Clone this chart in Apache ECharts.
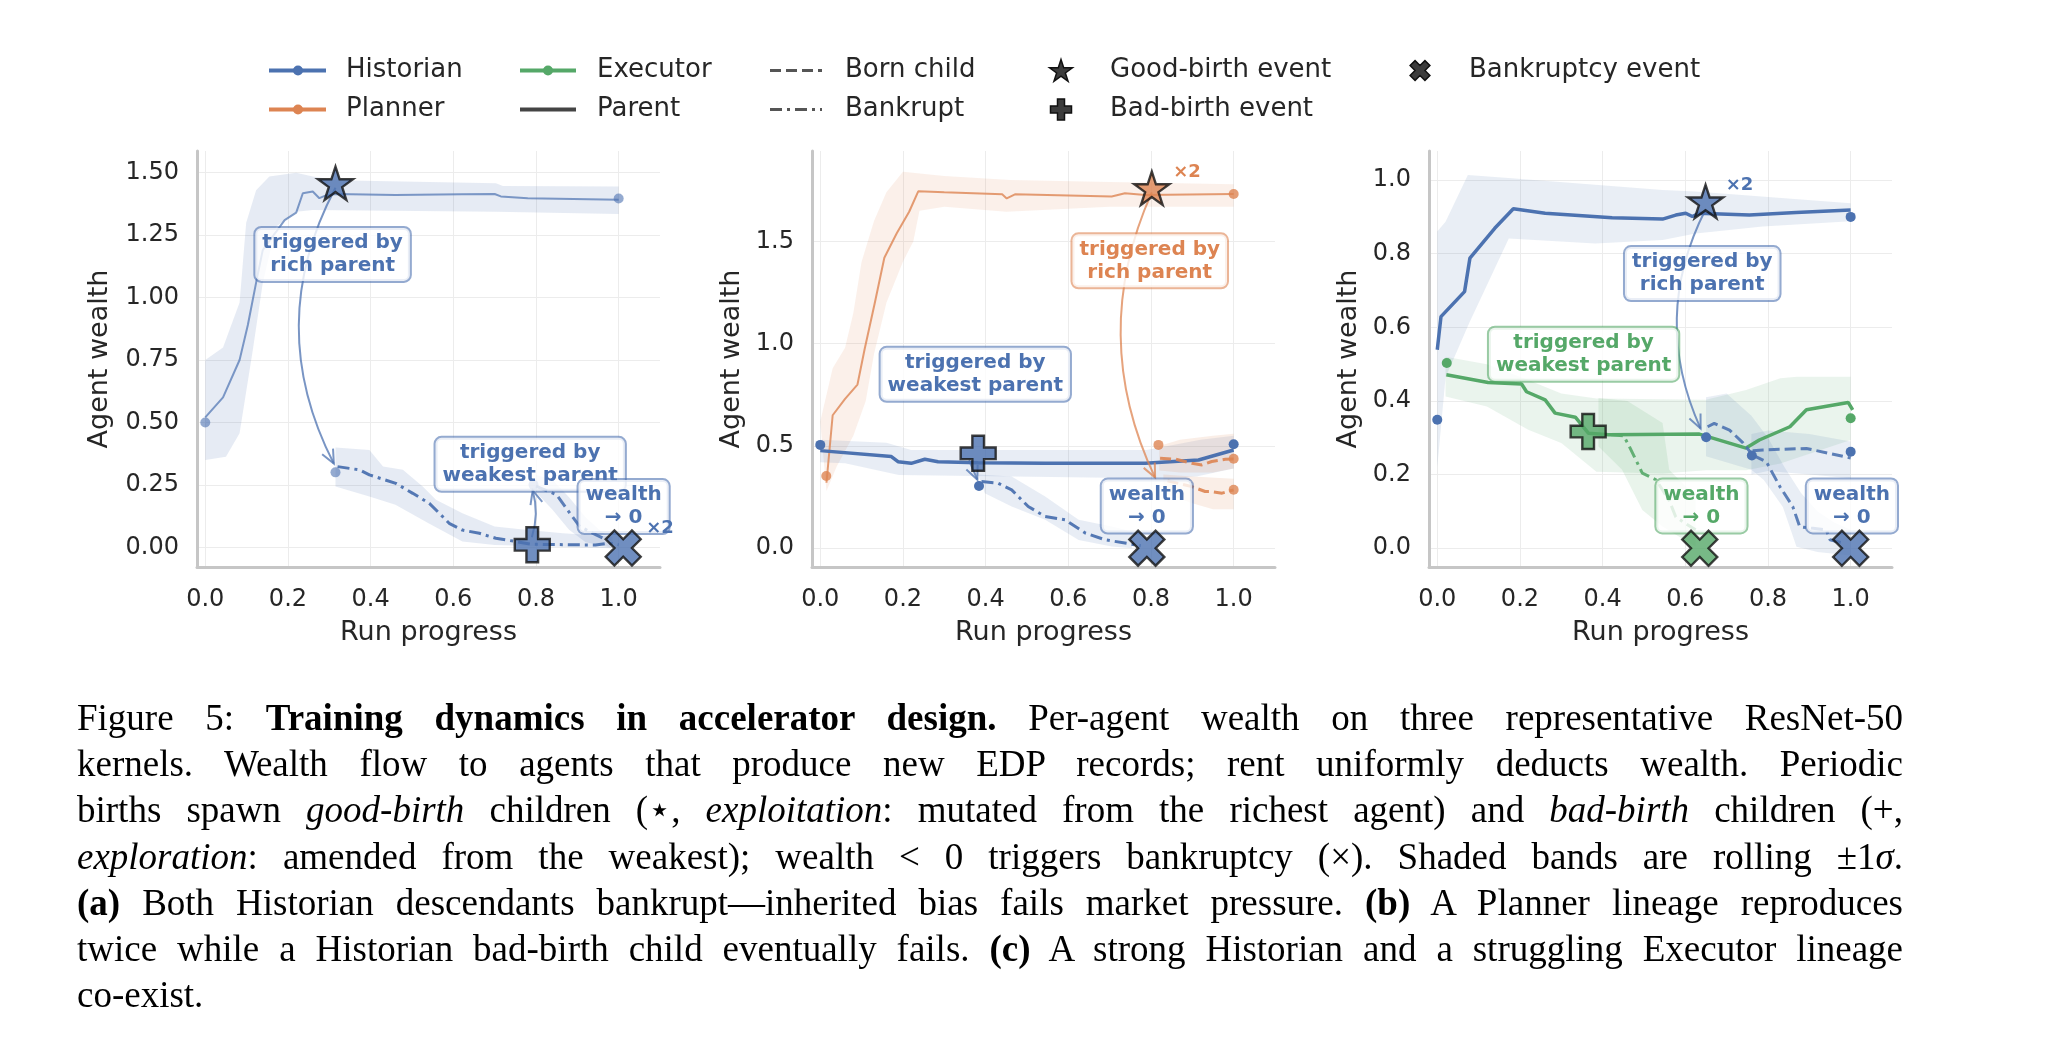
<!DOCTYPE html>
<html lang="en">
<head>
<meta charset="UTF-8">
<title>Figure 5</title>
<script src="https://cdn.jsdelivr.net/npm/echarts@6/dist/echarts.min.js"></script>
<style>
    * { margin: 0; padding: 0; }
    body { background: #fff; width: 2047px; height: 1043px; overflow: hidden; position: relative; }
    #chart { position: absolute; left: 0; top: 0; width: 2047px; height: 1043px; }
    #caption {
        position: absolute; left: 77px; top: 695px; width: 1826px;
        font-family: "Liberation Serif", "Times New Roman", serif;
        font-size: 37px; line-height: 46.2px; color: #000;
    }
    #caption div { text-align: justify; text-align-last: justify; white-space: nowrap; word-spacing: -2px; }
    #caption div.last { text-align-last: left; }
</style>
</head>
<body>
<div id="chart"></div>
<div id="caption">
    <div>Figure 5: <b>Training dynamics in accelerator design.</b> Per-agent wealth on three representative ResNet-50</div>
    <div>kernels. Wealth flow to agents that produce new EDP records; rent uniformly deducts wealth. Periodic</div>
    <div>births spawn <i>good-birth</i> children (&#8902;, <i>exploitation</i>: mutated from the richest agent) and <i>bad-birth</i> children (+,</div>
    <div><i>exploration</i>: amended from the weakest); wealth &lt; 0 triggers bankruptcy (&times;). Shaded bands are rolling &plusmn;1<i>&sigma;</i>.</div>
    <div><b>(a)</b> Both Historian descendants bankrupt&mdash;inherited bias fails market pressure. <b>(b)</b> A Planner lineage reproduces</div>
    <div>twice while a Historian bad-birth child eventually fails. <b>(c)</b> A strong Historian and a struggling Executor lineage</div>
    <div class="last">co-exist.</div>
</div>

<script type="text/javascript">
var C_HIST = '#4c72b0', C_PLAN = '#dd8452', C_EXEC = '#55a868';

// shared ticks
var xTicks = [0, 0.2, 0.4, 0.6, 0.8, 1.0];
var aTicksY = [0, 0.25, 0.5, 0.75, 1.0, 1.25, 1.5];
var bTicksY = [0, 0.5, 1.0, 1.5];
var cTicksY = [0, 0.2, 0.4, 0.6, 0.8, 1.0];

// ---- panel (a): Historian lineage ----
var aHistLine = [[0,0.52],[0.043,0.60],[0.083,0.75],[0.103,0.89],[0.123,1.06],[0.139,1.19],[0.192,1.31],[0.22,1.34],[0.236,1.418],[0.26,1.425],[0.276,1.398],[0.292,1.409],[0.316,1.415],[0.46,1.411],[0.62,1.414],[0.70,1.415],[0.715,1.405],[0.78,1.398],[1.0,1.392]];
var aHistHi = [[0,0.75],[0.043,0.80],[0.083,0.98],[0.099,1.30],[0.123,1.43],[0.155,1.485],[0.22,1.50],[0.26,1.485],[0.316,1.47],[0.703,1.458],[0.72,1.447],[1.0,1.445]];
var aHistLo = [[0,0.35],[0.05,0.363],[0.083,0.457],[0.115,0.79],[0.139,1.057],[0.171,1.284],[0.22,1.344],[0.26,1.351],[0.703,1.344],[1.0,1.335]];
var aChild1Line = [[0.32,0.323],[0.373,0.31],[0.397,0.29],[0.461,0.256],[0.502,0.216],[0.542,0.176],[0.574,0.123],[0.59,0.096],[0.622,0.069],[0.663,0.056],[0.703,0.036],[0.751,0.023],[0.79,0.012],[0.944,0.009],[0.977,0.016],[1.0,0.01]];
var aChild1Hi = [[0.315,0.40],[0.397,0.39],[0.43,0.323],[0.478,0.31],[0.526,0.243],[0.558,0.19],[0.59,0.163],[0.622,0.136],[0.70,0.083],[0.78,0.069],[0.865,0.056],[0.985,0.043]];
var aChild1Lo = [[0.315,0.243],[0.397,0.203],[0.46,0.17],[0.54,0.096],[0.622,0.023],[0.70,0.009],[0.985,-0.004]];
var aChild2Line = [[0.80,0.245],[0.85,0.21],[0.882,0.136],[0.906,0.083],[0.938,0.056],[0.97,0.03]];
var aChild2Hi = [[0.80,0.29],[0.84,0.27],[0.88,0.20],[0.92,0.12],[0.96,0.06],[0.98,0.04]];
var aChild2Lo = [[0.80,0.22],[0.84,0.15],[0.88,0.07],[0.92,0.02],[0.98,0.0]];
var aDots = [[0,0.50],[1.0,1.397],[0.315,0.30],[0.794,0.25]];
var aGood = [[0.315,1.458]];
var aBad = [[0.791,0.01]];
var aBankrupt = [[1.011,-0.003]];
var aBoxPos = [[0.308,1.173],[0.786,0.332],[1.012,0.163]];
var aBoxText = ['triggered by\nrich parent', 'triggered by\nweakest parent', 'wealth\n\u2192 0'];
var aCount = [[1.10,0.076]];
var aArrows = [[0.315,1.44,0.311,0.335,-0.26],[0.79,0.04,0.792,0.228,-0.15]];

// ---- panel (b): Planner reproduces, Historian child fails ----
var bPlanLine = [[0.015,0.32],[0.03,0.65],[0.06,0.73],[0.09,0.80],[0.107,0.97],[0.132,1.20],[0.155,1.42],[0.185,1.54],[0.215,1.645],[0.237,1.745],[0.30,1.74],[0.44,1.73],[0.451,1.71],[0.471,1.73],[0.705,1.72],[0.737,1.735],[0.786,1.727],[1.0,1.732]];
var bPlanHi = [[0,0.62],[0.03,0.88],[0.06,0.98],[0.08,1.15],[0.10,1.40],[0.13,1.60],[0.16,1.74],[0.20,1.84],[0.30,1.82],[0.46,1.80],[0.70,1.79],[1.0,1.78]];
var bPlanLo = [[0.015,0.28],[0.04,0.40],[0.08,0.55],[0.11,0.72],[0.13,0.95],[0.16,1.20],[0.20,1.40],[0.225,1.50],[0.24,1.65],[0.30,1.67],[0.45,1.645],[0.70,1.67],[1.0,1.67]];
var bHistLine = [[0,0.477],[0.172,0.448],[0.188,0.423],[0.22,0.415],[0.253,0.435],[0.285,0.423],[0.382,0.418],[0.544,0.415],[0.786,0.415],[0.915,0.431],[1.0,0.48]];
var bHistHi = [[0,0.53],[0.16,0.515],[0.22,0.48],[0.79,0.48],[0.92,0.53],[1.0,0.55]];
var bHistLo = [[0,0.42],[0.06,0.415],[0.19,0.358],[0.79,0.342],[0.91,0.35],[1.0,0.39]];
var bChildLine = [[0.39,0.326],[0.43,0.318],[0.463,0.285],[0.503,0.204],[0.544,0.155],[0.592,0.139],[0.641,0.074],[0.689,0.041],[0.737,0.025],[0.775,0.012]];
var bChildHi = [[0.382,0.36],[0.463,0.35],[0.544,0.253],[0.625,0.139],[0.705,0.106],[0.754,0.082]];
var bChildLo = [[0.398,0.269],[0.463,0.204],[0.544,0.139],[0.625,0.04],[0.705,0.008],[0.754,0.0]];
var bPlanKidA = [[0.822,0.44],[0.86,0.435],[0.899,0.415],[0.923,0.407],[0.947,0.424],[0.98,0.435],[1.0,0.436]];
var bPlanKidB = [[0.84,0.33],[0.87,0.315],[0.899,0.301],[0.931,0.277],[0.943,0.277],[0.972,0.269],[1.0,0.285]];
var bKidAHi = [[0.82,0.50],[0.87,0.53],[0.95,0.55],[1.0,0.56]];
var bKidALo = [[0.82,0.38],[0.87,0.37],[0.95,0.37],[1.0,0.39]];
var bKidBHi = [[0.83,0.36],[0.90,0.35],[1.0,0.34]];
var bKidBLo = [[0.83,0.27],[0.90,0.22],[0.95,0.19],[1.0,0.19]];
var bHistDots = [[0,0.505],[1.0,0.508],[0.384,0.304]];
var bPlanDots = [[0.0145,0.353],[1.0,1.732],[0.818,0.505],[1.0,0.437],[1.0,0.286]];
var bGood = [[0.802,1.76]];
var bBad = [[0.382,0.464]];
var bBankrupt = [[0.79,0.0]];
var bBoxPlanPos = [[0.797,1.405]];
var bBoxPlanText = ['triggered by\nrich parent'];
var bBoxHistPos = [[0.375,0.85],[0.79,0.206]];
var bBoxHistText = ['triggered by\nweakest parent', 'wealth\n\u2192 0'];
var bCount = [[0.887,1.84]];
var bArrowsPlan = [[0.802,1.74,0.81,0.345,-0.23]];
var bArrowsHist = [[0.36,0.43,0.38,0.335,0]];

// ---- panel (c): strong Historian, struggling Executor ----
var cHistLine = [[0,0.539],[0.009,0.629],[0.066,0.697],[0.079,0.788],[0.139,0.869],[0.184,0.922],[0.261,0.91],[0.423,0.898],[0.545,0.894],[0.577,0.905],[0.601,0.91],[0.617,0.901],[0.633,0.91],[0.755,0.905],[0.868,0.912],[1.0,0.919]];
var cHistHi = [[0,0.86],[0.02,0.887],[0.074,1.014],[0.18,1.005],[0.545,0.973],[0.625,0.969],[1.0,0.937]];
var cHistLo = [[0,0.22],[0.02,0.464],[0.077,0.611],[0.173,0.841],[0.382,0.828],[0.545,0.837],[0.625,0.855],[0.787,0.874],[1.0,0.888]];
var cExecLine = [[0.022,0.471],[0.123,0.45],[0.204,0.446],[0.216,0.425],[0.261,0.403],[0.285,0.367],[0.334,0.356],[0.366,0.312],[0.415,0.308],[0.634,0.31],[0.747,0.272],[0.779,0.294],[0.853,0.33],[0.893,0.376],[0.994,0.396],[1.005,0.376]];
var cExecHi = [[0.02,0.52],[0.12,0.50],[0.22,0.457],[0.30,0.42],[0.385,0.407],[0.65,0.403],[0.747,0.43],[0.83,0.462],[0.87,0.466],[1.0,0.466]];
var cExecLo = [[0.02,0.412],[0.12,0.385],[0.22,0.322],[0.30,0.286],[0.385,0.208],[0.545,0.203],[0.65,0.212],[0.747,0.212],[0.83,0.23],[1.0,0.294]];
var cExecKid = [[0.42,0.308],[0.451,0.305],[0.463,0.28],[0.496,0.204],[0.529,0.186],[0.561,0.13],[0.577,0.085],[0.601,0.067],[0.625,0.05]];
var cExecKidHi = [[0.39,0.408],[0.46,0.40],[0.545,0.34],[0.561,0.213],[0.593,0.177],[0.625,0.14]];
var cExecKidLo = [[0.39,0.276],[0.447,0.213],[0.496,0.104],[0.545,0.059],[0.61,0.014],[0.625,0.005]];
var cHistKidA = [[0.654,0.33],[0.67,0.339],[0.707,0.321],[0.739,0.287],[0.763,0.253]];
var cHistKidAFail = [[0.763,0.253],[0.796,0.235],[0.829,0.167],[0.86,0.113],[0.877,0.058],[0.909,0.054],[0.941,0.05],[0.95,0.023],[0.982,0.014]];
var cHistKidB = [[0.763,0.265],[0.788,0.267],[0.893,0.271],[1.0,0.245]];
var cKidAHi = [[0.65,0.41],[0.70,0.42],[0.76,0.36],[0.80,0.30],[0.84,0.22],[0.88,0.15],[0.92,0.10],[0.96,0.07],[1.0,0.05]];
var cKidALo = [[0.65,0.25],[0.76,0.213],[0.79,0.185],[0.836,0.112],[0.869,0.004],[0.92,-0.01],[1.0,-0.02]];
var cKidBHi = [[0.76,0.31],[0.80,0.32],[0.90,0.31],[1.0,0.29]];
var cKidBLo = [[0.76,0.20],[0.80,0.21],[0.90,0.20],[1.0,0.19]];
var cHistDots = [[0,0.349],[1.0,0.90],[0.6505,0.3015],[0.761,0.252],[1.0,0.262]];
var cExecDots = [[0.023,0.503],[1.0,0.353]];
var cGood = [[0.649,0.942]];
var cBad = [[0.365,0.317]];
var cBankruptExec = [[0.635,0.0]];
var cBankruptHist = [[1.0,0.0]];
var cBoxHistPos = [[0.641,0.746],[1.003,0.115]];
var cBoxHistText = ['triggered by\nrich parent', 'wealth\n\u2192 0'];
var cBoxExecPos = [[0.354,0.527],[0.639,0.115]];
var cBoxExecText = ['triggered by\nweakest parent', 'wealth\n\u2192 0'];
var cCount = [[0.731,0.987]];
var cArrowsHist = [[0.649,0.92,0.637,0.325,-0.24]];

// ---- marker shapes ----
function starPts(cx, cy, R) {
    var pts = [];
    for (var k = 0; k < 10; k++) {
        var r = (k % 2) ? R * 0.382 : R;
        var a = -Math.PI / 2 + k * Math.PI / 5;
        pts.push([cx + r * Math.cos(a), cy + r * Math.sin(a)]);
    }
    return pts;
}
var PLUS_BASE = [[0.5,1.5],[0.5,0.5],[1.5,0.5],[1.5,-0.5],[0.5,-0.5],[0.5,-1.5],[-0.5,-1.5],[-0.5,-0.5],[-1.5,-0.5],[-1.5,0.5],[-0.5,0.5],[-0.5,1.5]];
function plusPts(cx, cy, s) {
    var u = s / 3;
    return PLUS_BASE.map(function (p) { return [cx + p[0] * u, cy + p[1] * u]; });
}
function crossPts(cx, cy, s) {
    var u = s / (3 * Math.SQRT2);
    return PLUS_BASE.map(function (p) { return [cx + (p[0] - p[1]) * u, cy + (p[0] + p[1]) * u]; });
}
function toPath(pts) {
    return 'path://M' + pts.map(function (p) { return p[0].toFixed(3) + ',' + p[1].toFixed(3); }).join(' L') + ' Z';
}
var STAR = toPath(starPts(50, 50, 50));
var PLUS = toPath(plusPts(50, 50, 100));
var CROSS = toPath(crossPts(50, 50, 100));

// ---- series builders ----
function lineS(g, data, color, width, type, opacity) {
    return {
        type: 'line', xAxisIndex: g, yAxisIndex: g, data: data, symbol: 'none', silent: true, z: 3,
        lineStyle: { color: color, width: width, type: type || 'solid', opacity: opacity == null ? 1 : opacity, cap: 'butt' }
    };
}
function dotS(g, data, color, opacity) {
    return {
        type: 'scatter', xAxisIndex: g, yAxisIndex: g, data: data, symbol: 'circle', symbolSize: 10, silent: true, z: 4,
        itemStyle: { color: color, opacity: opacity == null ? 1 : opacity }
    };
}
function markS(g, data, shape, color, size) {
    return {
        type: 'scatter', xAxisIndex: g, yAxisIndex: g, data: data, symbol: shape, symbolSize: size, symbolKeepAspect: true,
        silent: true, z: 10, itemStyle: { color: color, borderColor: '#111', borderWidth: 2.4 }
    };
}
function bandS(g, hi, lo, color, opacity) {
    return {
        type: 'custom', xAxisIndex: g, yAxisIndex: g, data: [[hi[0][0], hi[0][1]]], silent: true, z: 1,
        renderItem: function (params, api) {
            var pts = hi.map(function (p) { return api.coord(p); });
            lo.slice().reverse().forEach(function (p) { pts.push(api.coord(p)); });
            return { type: 'polygon', shape: { points: pts }, style: { fill: color, opacity: opacity } };
        }
    };
}
function arrowS(g, list, color) {
    return {
        type: 'custom', xAxisIndex: g, yAxisIndex: g, data: list, silent: true, z: 5,
        renderItem: function (params, api) {
            var p1 = api.coord([api.value(0), api.value(1)]);
            var p2 = api.coord([api.value(2), api.value(3)]);
            var rad = api.value(4);
            var dx = p2[0] - p1[0], dy = p2[1] - p1[1];
            var cx = (p1[0] + p2[0]) / 2 + rad * dy, cy = (p1[1] + p2[1]) / 2 - rad * dx;
            var tx = p2[0] - cx, ty = p2[1] - cy, tl = Math.sqrt(tx * tx + ty * ty);
            tx /= tl; ty /= tl;
            var L = 15, a = 0.42, ca = Math.cos(a), sa = Math.sin(a);
            var h1 = [p2[0] - L * (tx * ca - ty * sa), p2[1] - L * (ty * ca + tx * sa)];
            var h2 = [p2[0] - L * (tx * ca + ty * sa), p2[1] - L * (ty * ca - tx * sa)];
            var st = { stroke: color, lineWidth: 2, fill: null, opacity: 0.75 };
            return {
                type: 'group', children: [
                    { type: 'bezierCurve', shape: { x1: p1[0], y1: p1[1], x2: p2[0], y2: p2[1], cpx1: cx, cpy1: cy }, style: st },
                    { type: 'polyline', shape: { points: [h1, p2, h2] }, style: st }
                ]
            };
        }
    };
}
function boxS(g, pos, texts, color, border) {
    return {
        type: 'custom', xAxisIndex: g, yAxisIndex: g, data: pos, silent: true, z: 6,
        renderItem: function (params, api) {
            var p = api.coord([api.value(0), api.value(1)]);
            return {
                type: 'text', x: p[0], y: p[1],
                style: {
                    text: texts[params.dataIndex], fill: color, align: 'center', verticalAlign: 'middle',
                    font: 'bold 20px "DejaVu Sans"', lineHeight: 23,
                    backgroundColor: 'rgba(255,255,255,0.8)', borderColor: border, borderWidth: 2,
                    borderRadius: 6, padding: [4, 7, 3, 7]
                }
            };
        }
    };
}
function countS(g, pos, color) {
    return {
        type: 'custom', xAxisIndex: g, yAxisIndex: g, data: pos, silent: true, z: 7,
        renderItem: function (params, api) {
            var p = api.coord([api.value(0), api.value(1)]);
            return { type: 'text', x: p[0], y: p[1], style: { text: '\u00d72', fill: color, align: 'center', verticalAlign: 'middle', font: 'bold 18px "DejaVu Sans"' } };
        }
    };
}

var DASH = [11, 5], DASHDOT = [12, 5, 3, 5];
var B_HIST = 'rgba(76,114,176,0.6)', B_PLAN = 'rgba(221,132,82,0.6)', B_EXEC = 'rgba(85,168,104,0.6)';

// ---- axes ----
var GRID_LEFT = [197, 812, 1429];
var grids = GRID_LEFT.map(function (l) { return { left: l, top: 151, width: 463, height: 416 }; });

function xAx(g) {
    return {
        type: 'value', gridIndex: g, min: -0.02, max: 1.1,
        name: 'Run progress', nameLocation: 'middle', nameGap: 52,
        nameTextStyle: { fontSize: 27, color: '#262626', fontFamily: 'DejaVu Sans' },
        axisLine: { onZero: false, lineStyle: { color: '#c6c6c6', width: 3 } },
        axisTick: { show: false, customValues: xTicks },
        axisLabel: { customValues: xTicks, margin: 21, fontSize: 24, color: '#262626', fontFamily: 'DejaVu Sans',
            formatter: function (v) { return v.toFixed(1); } },
        splitLine: { show: true, lineStyle: { color: '#ececec', width: 1 } }
    };
}
function yAx(g, min, max, ticks, dec, gap) {
    return {
        type: 'value', gridIndex: g, min: min, max: max,
        name: 'Agent wealth', nameLocation: 'middle', nameGap: gap, nameRotate: 90,
        nameTextStyle: { fontSize: 27, color: '#262626', fontFamily: 'DejaVu Sans' },
        axisLine: { show: true, onZero: false, lineStyle: { color: '#c6c6c6', width: 3 } },
        axisTick: { show: false, customValues: ticks },
        axisLabel: { customValues: ticks, margin: 18, fontSize: 24, color: '#262626', fontFamily: 'DejaVu Sans',
            formatter: function (v) { return v.toFixed(dec); } },
        splitLine: { show: true, lineStyle: { color: '#ececec', width: 1 } }
    };
}

// ---- legend (drawn as graphic) ----
var legendRows = [70.5, 109.5];
var legTextStyle = { fill: '#262626', font: '26px "DejaVu Sans"', verticalAlign: 'middle', align: 'left' };
function legText(x, y, t) { return { type: 'text', x: x, y: y, style: Object.assign({ text: t }, legTextStyle) }; }
function legLine(x1, x2, y, color, dash, w) {
    return { type: 'line', shape: { x1: x1, y1: y, x2: x2, y2: y }, style: { stroke: color, lineWidth: w || 4, lineDash: dash || null } };
}
function legDot(x, y, color) { return { type: 'circle', shape: { cx: x, cy: y, r: 5 }, style: { fill: color } }; }
function legPoly(pts) { return { type: 'polygon', shape: { points: pts }, style: { fill: '#3c3c3c', stroke: '#111', lineWidth: 1.5 } }; }
var legend = [
    legLine(269, 326, legendRows[0], C_HIST), legDot(298, legendRows[0], C_HIST), legText(346, legendRows[0], 'Historian'),
    legLine(269, 326, legendRows[1], C_PLAN), legDot(298, legendRows[1], C_PLAN), legText(346, legendRows[1], 'Planner'),
    legLine(520, 576, legendRows[0], C_EXEC), legDot(548, legendRows[0], C_EXEC), legText(597, legendRows[0], 'Executor'),
    legLine(520, 576, legendRows[1], '#444'), legText(597, legendRows[1], 'Parent'),
    legLine(770, 822, legendRows[0], '#555', DASH, 3), legText(845, legendRows[0], 'Born child'),
    legLine(770, 822, legendRows[1], '#555', DASHDOT, 3), legText(845, legendRows[1], 'Bankrupt'),
    legPoly(starPts(1061, legendRows[0] + 1, 12)), legText(1110, legendRows[0], 'Good-birth event'),
    legPoly(plusPts(1061, legendRows[1], 21)), legText(1110, legendRows[1], 'Bad-birth event'),
    legPoly(crossPts(1420, legendRows[0], 21)), legText(1469, legendRows[0], 'Bankruptcy event')
];

var series = [
    // (a)
    bandS(0, aHistHi, aHistLo, C_HIST, 0.14),
    bandS(0, aChild1Hi, aChild1Lo, C_HIST, 0.14),
    bandS(0, aChild2Hi, aChild2Lo, C_HIST, 0.14),
    lineS(0, aHistLine, C_HIST, 2, 'solid', 0.7),
    lineS(0, aChild1Line, C_HIST, 3, DASHDOT, 0.95),
    lineS(0, aChild2Line, C_HIST, 3, DASHDOT, 0.9),
    dotS(0, aDots, C_HIST, 0.6),
    arrowS(0, aArrows, C_HIST),
    boxS(0, aBoxPos, aBoxText, C_HIST, B_HIST),
    countS(0, aCount, C_HIST),
    markS(0, aGood, STAR, C_HIST, 35),
    markS(0, aBad, PLUS, C_HIST, 35),
    markS(0, aBankrupt, CROSS, C_HIST, 35),
    // (b)
    bandS(1, bPlanHi, bPlanLo, C_PLAN, 0.12),
    bandS(1, bHistHi, bHistLo, C_HIST, 0.13),
    bandS(1, bChildHi, bChildLo, C_HIST, 0.13),
    bandS(1, bKidAHi, bKidALo, C_PLAN, 0.14),
    bandS(1, bKidBHi, bKidBLo, C_PLAN, 0.14),
    lineS(1, bPlanLine, C_PLAN, 2, 'solid', 0.8),
    lineS(1, bHistLine, C_HIST, 3.5, 'solid', 1),
    lineS(1, bChildLine, C_HIST, 3, DASHDOT, 0.95),
    lineS(1, bPlanKidA, C_PLAN, 3, DASH, 0.9),
    lineS(1, bPlanKidB, C_PLAN, 3, DASH, 0.9),
    dotS(1, bHistDots, C_HIST, 1),
    dotS(1, bPlanDots, C_PLAN, 0.8),
    arrowS(1, bArrowsPlan, C_PLAN),
    arrowS(1, bArrowsHist, C_HIST),
    boxS(1, bBoxPlanPos, bBoxPlanText, C_PLAN, B_PLAN),
    boxS(1, bBoxHistPos, bBoxHistText, C_HIST, B_HIST),
    countS(1, bCount, C_PLAN),
    markS(1, bGood, STAR, C_PLAN, 35),
    markS(1, bBad, PLUS, C_HIST, 35),
    markS(1, bBankrupt, CROSS, C_HIST, 35),
    // (c)
    bandS(2, cHistHi, cHistLo, C_HIST, 0.12),
    bandS(2, cExecHi, cExecLo, C_EXEC, 0.12),
    bandS(2, cExecKidHi, cExecKidLo, C_EXEC, 0.13),
    bandS(2, cKidAHi, cKidALo, C_HIST, 0.12),
    bandS(2, cKidBHi, cKidBLo, C_HIST, 0.12),
    lineS(2, cHistLine, C_HIST, 3.5, 'solid', 1),
    lineS(2, cExecLine, C_EXEC, 3.5, 'solid', 1),
    lineS(2, cExecKid, C_EXEC, 3, DASHDOT, 0.9),
    lineS(2, cHistKidA, C_HIST, 3, DASH, 0.9),
    lineS(2, cHistKidAFail, C_HIST, 3, DASHDOT, 0.9),
    lineS(2, cHistKidB, C_HIST, 3, DASH, 0.9),
    dotS(2, cHistDots, C_HIST, 1),
    dotS(2, cExecDots, C_EXEC, 1),
    arrowS(2, cArrowsHist, C_HIST),
    boxS(2, cBoxHistPos, cBoxHistText, C_HIST, B_HIST),
    boxS(2, cBoxExecPos, cBoxExecText, C_EXEC, B_EXEC),
    countS(2, cCount, C_HIST),
    markS(2, cGood, STAR, C_HIST, 35),
    markS(2, cBad, PLUS, C_EXEC, 35),
    markS(2, cBankruptExec, CROSS, C_EXEC, 35),
    markS(2, cBankruptHist, CROSS, C_HIST, 35)
];

var myChart = echarts.init(document.getElementById('chart'), null, { renderer: 'canvas' });
myChart.setOption({
    backgroundColor: '#fff',
    animation: false,
    textStyle: { fontFamily: 'DejaVu Sans' },
    grid: grids,
    xAxis: [xAx(0), xAx(1), xAx(2)],
    yAxis: [
        yAx(0, -0.079, 1.587, aTicksY, 2, 84),
        yAx(1, -0.092, 1.942, bTicksY, 1, 67),
        yAx(2, -0.051, 1.079, cTicksY, 1, 67)
    ],
    graphic: legend,
    series: series
});
</script>
</body>
</html>
